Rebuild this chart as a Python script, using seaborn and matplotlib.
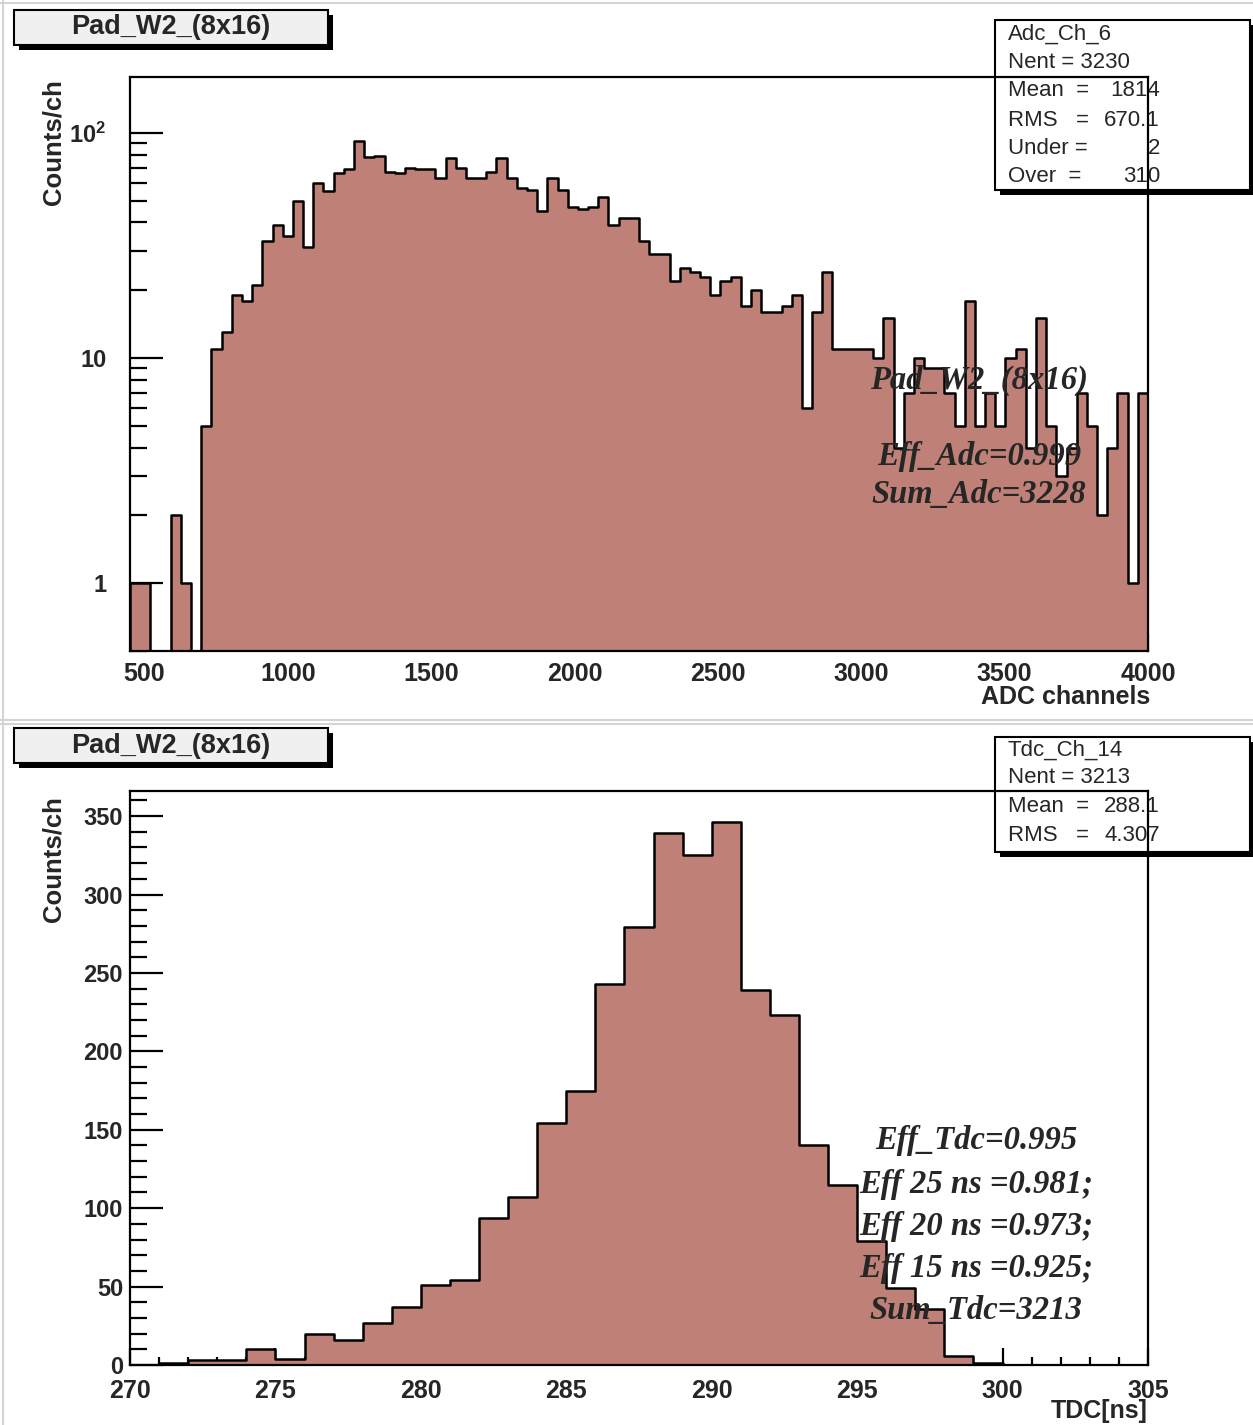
import numpy as np
import pandas as pd
import matplotlib
matplotlib.use("Agg")
import matplotlib.pyplot as plt
import seaborn as sns
from matplotlib.patches import Rectangle
from matplotlib.lines import Line2D
from matplotlib.ticker import FixedLocator, FixedFormatter, MultipleLocator, LogLocator, NullFormatter

# ---------------- data ----------------
pad_title = "Pad_W2_(8x16)"

adc_range = (450.0, 4000.0)
adc_nbins = 100
adc_counts = [1, 1, 0, 0, 2, 1, 0, 5, 11, 13,
              19, 18, 21, 33, 39, 35, 50, 31, 60, 55,
              66, 69, 92, 78, 79, 67, 66, 70, 69, 69,
              63, 77, 70, 63, 63, 67, 77, 63, 57, 56,
              45, 63, 56, 47, 46, 47, 52, 39, 42, 42,
              33, 29, 29, 22, 25, 24, 23, 19, 22, 23,
              17, 20, 16, 16, 17, 19, 6, 16, 24, 11,
              11, 11, 11, 10, 15, 4, 7, 10, 9, 9,
              7, 5, 18, 5, 7, 5, 10, 11, 4, 15,
              5, 3, 4, 7, 5, 2, 4, 7, 1, 7]

tdc_range = (270.0, 305.0)
tdc_nbins = 35
tdc_counts = [0, 1, 3, 3, 10, 4, 20, 16, 27, 37,
              51, 54, 94, 107, 154, 175, 243, 279, 339, 325,
              346, 239, 223, 140, 115, 79, 49, 36, 6, 1,
              0, 0, 0, 0, 0]

adc_stats_labels = ["Mean  =", "RMS   =", "Under =", "Over  ="]
adc_stats_values = ["1814", "670.1", "2", "310"]
tdc_stats_labels = ["Mean  =", "RMS   ="]
tdc_stats_values = ["288.1", "4.307"]

adc_notes = ["Pad_W2_(8x16)", "Eff_Adc=0.999", "Sum_Adc=3228"]
tdc_notes = ["Eff_Tdc=0.995", "Eff 25 ns =0.981;", "Eff 20 ns =0.973;",
             "Eff 15 ns =0.925;", "Sum_Tdc=3213"]

FILL = "#bf8177"

# ---------------- style ----------------
sns.set_style("white")
plt.rcParams["font.family"] = ["Liberation Sans", "DejaVu Sans"]
plt.rcParams["font.weight"] = "bold"
plt.rcParams["mathtext.fontset"] = "custom"
plt.rcParams["mathtext.bf"] = "Liberation Sans:bold"
plt.rcParams["mathtext.rm"] = "Liberation Sans:bold"

W, H = 1253, 1425
fig = plt.figure(figsize=(W / 100, H / 100), dpi=100)
fig.patch.set_facecolor("white")


def fx(x):
    return x / W


def fy(y):
    return 1 - y / H


# pad borders (light grey)
for y in (3, 720, 724):
    fig.add_artist(Line2D([0, 1], [fy(y), fy(y)], color="#d4d4d4", lw=1.5, zorder=-3))
fig.add_artist(Line2D([fx(3), fx(3)], [0, 1], color="#d4d4d4", lw=1.5, zorder=-3))

ax1 = fig.add_axes([fx(130), fy(651), fx(1148) - fx(130), fy(77) - fy(651)])
ax2 = fig.add_axes([fx(130), fy(1365), fx(1148) - fx(130), fy(791) - fy(1365)])

adc_width = (adc_range[1] - adc_range[0]) / adc_nbins
tdc_width = (tdc_range[1] - tdc_range[0]) / tdc_nbins
adc_df = pd.DataFrame({
    "adc": adc_range[0] + adc_width * (np.arange(adc_nbins) + 0.5),
    "counts": np.asarray(adc_counts, dtype=float),
})
tdc_df = pd.DataFrame({
    "tdc": tdc_range[0] + tdc_width * (np.arange(tdc_nbins) + 0.5),
    "counts": np.asarray(tdc_counts, dtype=float),
})

sns.histplot(data=adc_df, x="adc", weights="counts", binwidth=adc_width, binrange=adc_range,
             element="step", fill=True, color=FILL, alpha=1, edgecolor="black",
             linewidth=1.8, ax=ax1)
sns.histplot(data=tdc_df, x="tdc", weights="counts", binwidth=tdc_width, binrange=tdc_range,
             element="step", fill=True, color=FILL, alpha=1, edgecolor="black",
             linewidth=1.8, ax=ax2)

for ax in (ax1, ax2):
    ax.set_facecolor("none")
    ax.set_xlabel("")
    ax.set_ylabel("")
    for s in ax.spines.values():
        s.set_visible(True)
        s.set_color("black")
        s.set_linewidth(1.6)
        s.set_zorder(5)

# top axes: log scale
ax1.set_yscale("log")
ax1.set_xlim(*adc_range)
ax1.set_ylim(0.5, 177)
ax1.yaxis.set_major_locator(FixedLocator([1, 10, 100]))
ax1.yaxis.set_major_formatter(FixedFormatter(["1", "10", r"$\mathbf{10^{2}}$"]))
ax1.yaxis.set_minor_locator(LogLocator(base=10, subs=np.arange(2, 10), numticks=20))
ax1.yaxis.set_minor_formatter(NullFormatter())
ax1.xaxis.set_major_locator(MultipleLocator(500))
ax1.xaxis.set_minor_locator(MultipleLocator(100))

# bottom axes: linear
ax2.set_xlim(*tdc_range)
ax2.set_ylim(0, 366)
ax2.yaxis.set_major_locator(MultipleLocator(50))
ax2.yaxis.set_minor_locator(MultipleLocator(10))
ax2.xaxis.set_major_locator(MultipleLocator(5))
ax2.xaxis.set_minor_locator(MultipleLocator(1))

for ax, ypad, xpad in ((ax1, 17, 8), (ax2, 5, 10)):
    ax.tick_params(which="both", bottom=True, left=True, top=False, right=False,
                   direction="in", color="black", width=1.6, zorder=6)
    ax.tick_params(axis="y", which="major", length=24, labelsize=17, pad=ypad)
    ax.tick_params(axis="y", which="minor", length=12)
    ax.tick_params(axis="x", which="major", length=12, labelsize=18, pad=xpad)
    ax.tick_params(axis="x", which="minor", length=6)
    for lab in ax.get_xticklabels() + ax.get_yticklabels():
        lab.set_fontweight("bold")

# axis titles
fig.text(fx(1150), fy(697), "ADC channels", ha="right", va="center", fontsize=18, fontweight="bold")
fig.text(fx(1148), fy(1411), "TDC[ns]", ha="right", va="center", fontsize=18, fontweight="bold")
fig.text(fx(53), fy(79), "Counts/ch", rotation=90, ha="center", va="top", fontsize=18.5, fontweight="bold")
fig.text(fx(53), fy(796), "Counts/ch", rotation=90, ha="center", va="top", fontsize=18.5, fontweight="bold")


# title boxes
def title_box(x0, y0, x1, y1, text):
    sh = 5
    fig.add_artist(Rectangle((fx(x0 + sh), fy(y1 + sh)), fx(x1 - x0), (y1 - y0) / H,
                             facecolor="black", edgecolor="black", lw=0, zorder=2))
    fig.add_artist(Rectangle((fx(x0), fy(y1)), fx(x1 - x0), (y1 - y0) / H,
                             facecolor="#f0f0f0", edgecolor="black", lw=1.5, zorder=2.1))
    fig.text(fx((x0 + x1) / 2), fy((y0 + y1) / 2), text, ha="center", va="center",
             fontsize=19.5, fontweight="bold", zorder=2.2)


title_box(14, 10, 328, 45, pad_title)
title_box(14, 728, 328, 763, pad_title)


# stats boxes
def stats_box(y0, y1, name, nent, labels, values, rows):
    sh = 5
    fig.add_artist(Rectangle((fx(995 + sh), fy(y1 + sh)), fx(1253 - 995), (y1 - y0) / H,
                             facecolor="black", edgecolor="black", lw=0, zorder=-2))
    fig.add_artist(Rectangle((fx(995), fy(y1)), fx(1250 - 995), (y1 - y0) / H,
                             facecolor="white", edgecolor="black", lw=1.5, zorder=-1.5))
    kw = dict(va="center", fontsize=16, fontweight="normal", zorder=-1)
    fig.text(fx(1008), fy(rows[0]), name, ha="left", **kw)
    fig.text(fx(1008), fy(rows[1]), "Nent = " + nent, ha="left", **kw)
    for lab, val, r in zip(labels, values, rows[2:]):
        fig.text(fx(1008), fy(r), lab, ha="left", **kw)
        fig.text(fx(1160), fy(r), val, ha="right", **kw)


stats_box(20, 190, "Adc_Ch_6", "3230", adc_stats_labels, adc_stats_values,
          [34, 62, 91, 120, 149, 177])
stats_box(737, 852, "Tdc_Ch_14", "3213", tdc_stats_labels, tdc_stats_values,
          [750, 777, 806, 835])

# annotations
note_font = dict(family=["Liberation Serif", "DejaVu Serif"], style="italic",
                 weight="bold", fontsize=23.5, ha="center", va="center", zorder=6)
for txt, y in zip(adc_notes, [380, 457, 494]):
    fig.text(fx(979), fy(y), txt, **note_font)
for txt, y in zip(tdc_notes, [1140, 1184, 1226, 1269, 1311]):
    fig.text(fx(976), fy(y), txt, **note_font)

fig.savefig("out.png", dpi=100)
